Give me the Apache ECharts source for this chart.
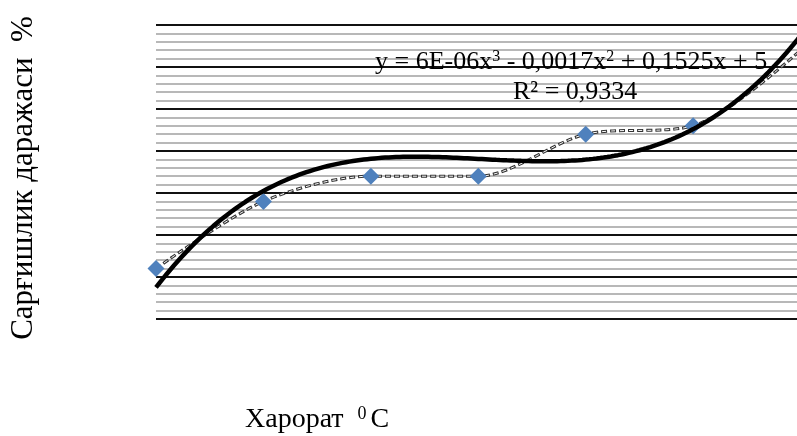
<!DOCTYPE html>
<html>
<head>
<meta charset="utf-8">
<script src="https://cdn.jsdelivr.net/npm/echarts@6/dist/echarts.min.js"></script>
<style>
  html, body { margin: 0; padding: 0; background: #fff; }
  #chart { width: 797px; height: 436px; }
</style>
</head>
<body>
<div id="chart"></div>
<script>
    // harorat (x) va sarg'ishlik darajasi (y)
    var tempValues = [10, 40, 70, 100, 130, 160, 190];
    var yellowValues = [7.2, 8.8, 9.4, 9.4, 10.4, 10.6, 12.4];
    // polinomial trend chizig'i (rasmdan o'qilgan nuqtalar)
    var trendX = [10, 25, 40, 55, 70, 85, 100, 115, 130, 145, 160, 175, 190];
    var trendY = [6.74, 8.14, 9.06, 9.59, 9.82, 9.86, 9.80, 9.74, 9.78, 10.01, 10.54, 11.46, 12.7];
    var eqText = 'y = 6E-06x{sup|3} - 0,0017x{sup|2} + 0,1525x + 5';
    var r2Text = 'R² = 0,9334';

    // 3-darajali polinom (eng kichik kvadratlar), Excel trendi kabi
    function cubicFit(xs, ys) {
        var m = xs.reduce(function (a, b) { return a + b; }, 0) / xs.length;
        var A = [], i, j, k;
        for (i = 0; i < 4; i++) { A.push([0, 0, 0, 0, 0]); }
        xs.forEach(function (x, n) {
            var t = (x - m) / 30;
            var p = [1, t, t * t, t * t * t];
            for (i = 0; i < 4; i++) {
                for (j = 0; j < 4; j++) A[i][j] += p[i] * p[j];
                A[i][4] += p[i] * ys[n];
            }
        });
        for (i = 0; i < 4; i++) {
            for (k = i + 1; k < 4; k++) {
                var f = A[k][i] / A[i][i];
                for (j = i; j < 5; j++) A[k][j] -= f * A[i][j];
            }
        }
        var c = [0, 0, 0, 0];
        for (i = 3; i >= 0; i--) {
            var s = A[i][4];
            for (j = i + 1; j < 4; j++) s -= A[i][j] * c[j];
            c[i] = s / A[i][i];
        }
        return function (x) { var t = (x - m) / 30; return c[0] + c[1] * t + c[2] * t * t + c[3] * t * t * t; };
    }

    var trend = cubicFit(trendX, trendY);
    var trendData = [];
    for (var x = trendX[0]; x <= trendX[trendX.length - 1]; x += 1) {
        trendData.push([x, trend(x)]);
    }

    var chart = echarts.init(document.getElementById('chart'));
    var font = '"Liberation Serif", "Times New Roman", serif';
    var points = tempValues.map(function (t, i) { return [t, yellowValues[i]]; });

    var option = {
        animation: false,
        grid: { left: 156, right: 0, top: 25, bottom: 117 },
        xAxis: {
            type: 'value',
            min: 10,
            max: 189,
            axisLine: { show: false },
            axisTick: { show: false },
            axisLabel: { show: false },
            splitLine: { show: false }
        },
        yAxis: {
            type: 'value',
            min: 6,
            max: 13,
            interval: 1,
            axisLine: { show: false },
            axisTick: { show: false },
            axisLabel: { show: false },
            minorTick: { show: false, splitNumber: 5 },
            splitLine: { show: true, lineStyle: { color: '#111', width: 2 } },
            minorSplitLine: { show: true, lineStyle: { color: '#b8b8b8', width: 2 } }
        },
        graphic: [
            {
                type: 'text', x: 24, y: 178, rotation: Math.PI / 2, z: 1,
                style: {
                    text: 'Сарғишлик даражаси  %',
                    font: '31px ' + font, fill: '#000',
                    align: 'center', verticalAlign: 'middle'
                }
            },
            {
                type: 'text', left: 245, top: 405, z: 1,
                style: {
                    text: 'Харорат  {sup|0}C',
                    font: '28px ' + font, fill: '#000',
                    rich: { sup: { fontSize: 18, fontFamily: font, padding: [0, 4, 12, 0] } }
                }
            },
            {
                type: 'text', left: 375, top: 49, z: 1,
                style: {
                    text: eqText,
                    font: '26px ' + font, fill: '#000',
                    rich: { sup: { fontSize: 16, fontFamily: font, padding: [0, 0, 11, 0] } }
                }
            },
            {
                type: 'text', left: 513, top: 79, z: 1,
                style: { text: r2Text, font: '26px ' + font, fill: '#000' }
            }
        ],
        series: [
            {
                type: 'line',
                data: points,
                smooth: 0.3,
                symbol: 'none',
                lineStyle: { color: '#333', width: 3, type: [6, 3] },
                z: 2
            },
            {
                type: 'line',
                data: points,
                smooth: 0.3,
                symbol: 'diamond',
                symbolSize: 17,
                itemStyle: { color: '#4f81bd' },
                lineStyle: { color: '#fff', width: 1, type: [4, 5], dashOffset: -1 },
                z: 3
            },
            {
                type: 'line',
                data: trendData,
                symbol: 'none',
                lineStyle: { color: '#000', width: 4.5 },
                z: 4
            }
        ]
    };
    chart.setOption(option);
</script>
</body>
</html>
